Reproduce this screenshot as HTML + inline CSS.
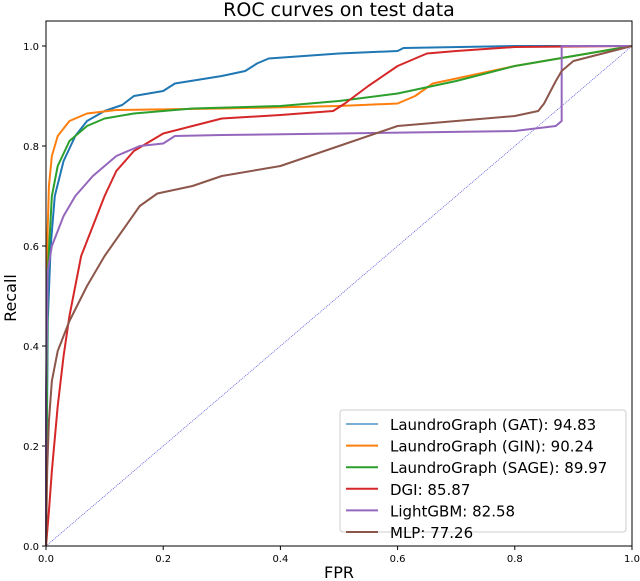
<!DOCTYPE html>
<html><head><meta charset="utf-8"><style>
html,body{margin:0;padding:0;background:#fff;}
svg{display:block;font-family:"DejaVu Sans","Liberation Sans",sans-serif;}
</style></head><body>
<svg id="chart" width="640" height="581" viewBox="0 0 640 581">
<text x="339" y="16" font-size="19" text-anchor="middle" fill="#000">ROC curves on test data</text>
<text x="339" y="578" font-size="16" text-anchor="middle">FPR</text>
<text transform="translate(16,298) rotate(-90)" font-size="16" text-anchor="middle">Recall</text>
<g id="ticks"></g>
<g id="series"></g>
<rect x="46" y="21" width="586" height="525" fill="none" stroke="#000" stroke-width="1"/>
<g id="legend"></g>
</svg>
<script>
const ticks=[0,0.2,0.4,0.6,0.8,1.0];
const tickLabels=["0.0","0.2","0.4","0.6","0.8","1.0"];
const names=["LaundroGraph (GAT): 94.83","LaundroGraph (GIN): 90.24","LaundroGraph (SAGE): 89.97","DGI: 85.87","LightGBM: 82.58","MLP: 77.26"];
const colors=["#1f77b4","#ff7f0e","#2ca02c","#d62728","#9467bd","#8c564b"];
const gatX=[0,0.003,0.008,0.015,0.03,0.05,0.07,0.1,0.13,0.15,0.2,0.22,0.3,0.34,0.36,0.38,0.5,0.6,0.61,0.8,1];
const gatY=[0,0.45,0.6,0.7,0.77,0.82,0.85,0.87,0.882,0.9,0.91,0.925,0.94,0.95,0.965,0.975,0.985,0.99,0.996,1,1];
const ginX=[0,0.002,0.005,0.01,0.02,0.04,0.07,0.12,0.3,0.5,0.6,0.63,0.66,0.8,0.9,1];
const ginY=[0,0.6,0.72,0.78,0.82,0.85,0.865,0.872,0.875,0.88,0.885,0.9,0.925,0.96,0.98,1];
const sageX=[0,0.003,0.01,0.02,0.04,0.07,0.1,0.15,0.25,0.4,0.5,0.6,0.7,0.8,0.9,1];
const sageY=[0,0.55,0.7,0.76,0.81,0.84,0.855,0.865,0.875,0.88,0.89,0.905,0.93,0.96,0.98,1];
const dgiX=[0,0.005,0.01,0.02,0.03,0.04,0.06,0.08,0.1,0.12,0.15,0.2,0.25,0.3,0.4,0.49,0.51,0.55,0.6,0.65,0.7,0.8,1];
const dgiY=[0,0.07,0.15,0.28,0.38,0.46,0.58,0.64,0.7,0.75,0.79,0.825,0.84,0.855,0.862,0.87,0.885,0.92,0.96,0.985,0.99,0.998,1];
const lgbX=[0,0,0.003,0.01,0.03,0.05,0.08,0.12,0.16,0.2,0.22,0.3,0.5,0.8,0.87,0.88,0.88,1];
const lgbY=[0,0.3,0.55,0.6,0.66,0.7,0.74,0.78,0.8,0.805,0.82,0.822,0.825,0.83,0.84,0.85,1,1];
const mlpX=[0,0.002,0.005,0.01,0.02,0.04,0.07,0.1,0.13,0.16,0.19,0.25,0.3,0.4,0.45,0.5,0.6,0.7,0.8,0.84,0.85,0.87,0.88,0.9,1];
const mlpY=[0,0.15,0.25,0.33,0.39,0.45,0.52,0.58,0.63,0.68,0.705,0.72,0.74,0.76,0.78,0.8,0.84,0.85,0.86,0.87,0.885,0.93,0.95,0.97,1];
const seriesX=[gatX,ginX,sageX,dgiX,lgbX,mlpX];
const seriesY=[gatY,ginY,sageY,dgiY,lgbY,mlpY];
const seriesNames=["gat","gin","sage","dgi","lightgbm","mlp"];
const NS="http://www.w3.org/2000/svg";
function sx(v){return 46+v*586;}
function sy(v){return 546-v*500;}
const tg=document.getElementById('ticks');
ticks.forEach((t,i)=>{
 let l=document.createElementNS(NS,'line');l.setAttribute('x1',sx(t));l.setAttribute('x2',sx(t));l.setAttribute('y1',546);l.setAttribute('y2',550);l.setAttribute('stroke','#000');
 
 tg.appendChild(l);
 let tx=document.createElementNS(NS,'text');tx.setAttribute('x',sx(t));tx.setAttribute('y',562);tx.setAttribute('font-size','10');tx.setAttribute('text-anchor','middle');tx.textContent=tickLabels[i];
 
 tg.appendChild(tx);
 let l2=document.createElementNS(NS,'line');l2.setAttribute('x1',42);l2.setAttribute('x2',46);l2.setAttribute('y1',sy(t));l2.setAttribute('y2',sy(t));l2.setAttribute('stroke','#000');
 
 tg.appendChild(l2);
 let ty=document.createElementNS(NS,'text');ty.setAttribute('x',39);ty.setAttribute('y',sy(t)+4);ty.setAttribute('font-size','10');ty.setAttribute('text-anchor','end');ty.textContent=tickLabels[i];
 
 tg.appendChild(ty);
});
const sg=document.getElementById('series');
let d=document.createElementNS(NS,'line');d.setAttribute('x1',sx(0));d.setAttribute('y1',sy(0));d.setAttribute('x2',sx(1));d.setAttribute('y2',sy(1));d.setAttribute('stroke','#5555dd');d.setAttribute('stroke-width','0.8');d.setAttribute('stroke-dasharray','1,1');

sg.appendChild(d);
seriesX.forEach((xs,i)=>{
 let p=document.createElementNS(NS,'polyline');
 p.setAttribute('points',xs.map((x,j)=>sx(x)+','+sy(seriesY[i][j])).join(' '));
 p.setAttribute('fill','none');p.setAttribute('stroke',colors[i]);p.setAttribute('stroke-width','2');p.setAttribute('stroke-linejoin','round');
 
 sg.appendChild(p);
});
const lg=document.getElementById('legend');
let box=document.createElementNS(NS,'rect');box.setAttribute('x',340);box.setAttribute('y',410);box.setAttribute('width',286);box.setAttribute('height',122);box.setAttribute('rx',3);box.setAttribute('fill','#fff');box.setAttribute('fill-opacity','0.9');box.setAttribute('stroke','#ccc');

lg.appendChild(box);
names.forEach((n,i)=>{
 let y=424+i*21.6;
 let l=document.createElementNS(NS,'line');l.setAttribute('x1',346);l.setAttribute('x2',378);l.setAttribute('y1',y);l.setAttribute('y2',y);l.setAttribute('stroke',colors[i]);l.setAttribute('stroke-width','2');
 if(i==0)l.setAttribute('stroke-opacity','0.6');
 
 lg.appendChild(l);
 let t=document.createElementNS(NS,'text');t.setAttribute('x',390);t.setAttribute('y',y+6);t.setAttribute('font-size','15');t.textContent=n;
 
 lg.appendChild(t);
});
</script>
</body></html>
